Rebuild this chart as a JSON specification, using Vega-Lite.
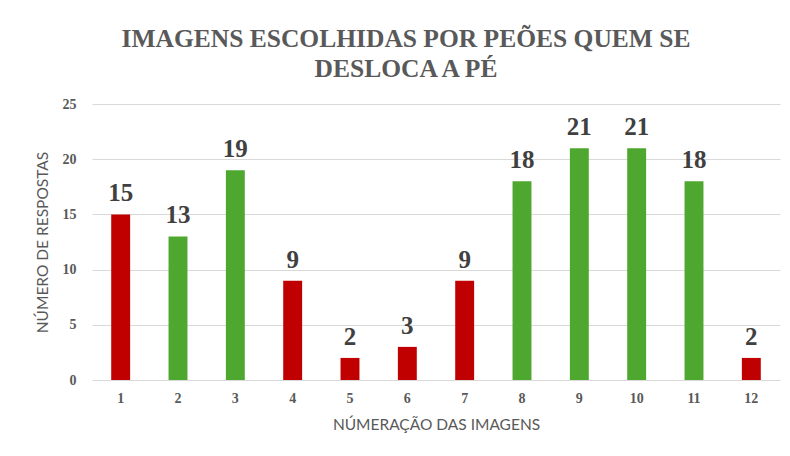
{
  "$schema": "https://vega.github.io/schema/vega-lite/v6.json",
  "autosize": "none",
  "width": 688,
  "height": 276,
  "padding": {"left": 92, "top": 104, "right": 10, "bottom": 76},
  "background": "white",
  "title": {
    "text": ["IMAGENS ESCOLHIDAS POR PEÕES QUEM SE", "DESLOCA A PÉ"],
    "font": "Liberation Serif",
    "fontSize": 25.5,
    "fontWeight": "bold",
    "color": "#595959",
    "anchor": "middle",
    "frame": "group",
    "dx": -30,
    "offset": 15,
    "lineHeight": 30
  },
  "data": {
    "values": [
      {"img": "1", "n": 15, "grupo": "vermelho"},
      {"img": "2", "n": 13, "grupo": "verde"},
      {"img": "3", "n": 19, "grupo": "verde"},
      {"img": "4", "n": 9, "grupo": "vermelho"},
      {"img": "5", "n": 2, "grupo": "vermelho"},
      {"img": "6", "n": 3, "grupo": "vermelho"},
      {"img": "7", "n": 9, "grupo": "vermelho"},
      {"img": "8", "n": 18, "grupo": "verde"},
      {"img": "9", "n": 21, "grupo": "verde"},
      {"img": "10", "n": 21, "grupo": "verde"},
      {"img": "11", "n": 18, "grupo": "verde"},
      {"img": "12", "n": 2, "grupo": "vermelho"}
    ]
  },
  "encoding": {
    "x": {
      "field": "img",
      "type": "ordinal",
      "sort": null,
      "scale": {"paddingInner": 0.67, "paddingOuter": 0.335},
      "axis": {
        "title": "NÚMERAÇÃO DAS IMAGENS",
        "titleFont": "Lato",
        "titleFontSize": 15.5,
        "titleFontWeight": "normal",
        "titleColor": "#595959",
        "titlePadding": 12,
        "labelFont": "Liberation Serif",
        "labelFontSize": 14,
        "labelFontWeight": "bold",
        "labelColor": "#595959",
        "labelAngle": 0,
        "labelPadding": 11,
        "ticks": false,
        "domain": false
      }
    },
    "y": {
      "field": "n",
      "type": "quantitative",
      "scale": {"domain": [0, 25]},
      "axis": {
        "title": "NÚMERO DE RESPOSTAS",
        "titleFont": "Lato",
        "titleFontSize": 15.5,
        "titleFontWeight": "normal",
        "titleColor": "#595959",
        "titlePadding": 12,
        "values": [0, 5, 10, 15, 20, 25],
        "labelFont": "Liberation Serif",
        "labelFontSize": 14,
        "labelFontWeight": "bold",
        "labelColor": "#595959",
        "labelPadding": 16,
        "ticks": false,
        "domain": false,
        "gridColor": "#d9d9d9",
        "gridWidth": 1
      }
    }
  },
  "layer": [
    {
      "mark": {"type": "bar"},
      "encoding": {
        "color": {
          "field": "grupo",
          "type": "nominal",
          "scale": {"domain": ["vermelho", "verde"], "range": ["#C00000", "#4EA72E"]},
          "legend": null
        }
      }
    },
    {
      "mark": {
        "type": "text",
        "baseline": "bottom",
        "dy": -8,
        "font": "Liberation Serif",
        "fontSize": 25,
        "fontWeight": "bold",
        "color": "#404040"
      },
      "encoding": {"text": {"field": "n", "type": "quantitative"}}
    }
  ],
  "config": {"view": {"stroke": null}}
}
